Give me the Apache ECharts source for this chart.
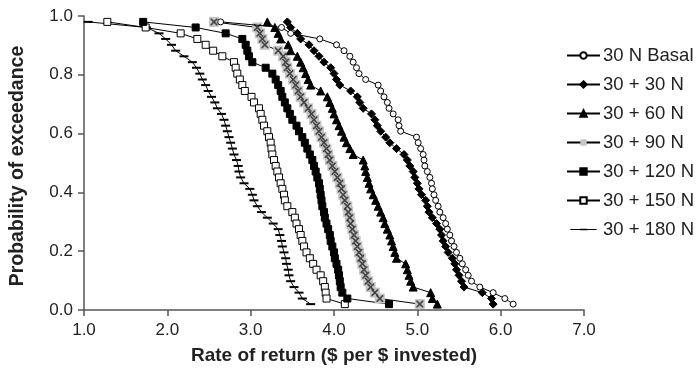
<!DOCTYPE html>
<html>
<head>
<meta charset="utf-8">
<script src="https://cdn.jsdelivr.net/npm/echarts@6/dist/echarts.min.js"></script>
<style>html,body{margin:0;padding:0;background:#fff}#c{width:700px;height:385px}</style>
</head>
<body>
<div id="c"></div>
<script>
// Probability of exceedance levels (shared by all series)
const prob = [0.980,0.961,0.941,0.922,0.902,0.882,0.863,0.843,0.824,0.804,0.784,0.765,0.745,0.725,0.706,0.686,0.667,0.647,0.627,0.608,0.588,0.569,0.549,0.529,0.510,0.490,0.471,0.451,0.431,0.412,0.392,0.373,0.353,0.333,0.314,0.294,0.275,0.255,0.235,0.216,0.196,0.176,0.157,0.137,0.118,0.098,0.078,0.059,0.039,0.020];

const seriesNames = ['30 N Basal','30 + 30 N','30 + 60 N','30 + 90 N','30 + 120 N','30 + 150 N','30 + 180 N'];

const rBasal = [2.64,3.37,3.48,3.83,4.03,4.12,4.19,4.23,4.27,4.30,4.38,4.53,4.56,4.60,4.64,4.66,4.71,4.77,4.78,4.80,4.99,5.01,5.04,5.07,5.08,5.09,5.12,5.15,5.17,5.18,5.20,5.22,5.25,5.27,5.31,5.34,5.36,5.39,5.41,5.44,5.47,5.51,5.54,5.58,5.61,5.65,5.75,5.91,6.05,6.15];
const r30 = [3.44,3.48,3.56,3.60,3.70,3.76,3.82,3.88,3.96,4.00,4.03,4.07,4.20,4.28,4.31,4.35,4.45,4.49,4.52,4.56,4.62,4.67,4.75,4.84,4.88,4.91,4.95,4.97,5.00,5.02,5.05,5.10,5.12,5.14,5.18,5.23,5.27,5.29,5.31,5.34,5.37,5.42,5.45,5.47,5.50,5.53,5.56,5.78,5.89,5.91];
const r60 = [3.20,3.29,3.33,3.36,3.45,3.48,3.56,3.60,3.63,3.66,3.69,3.72,3.84,3.92,3.95,3.98,4.00,4.03,4.06,4.09,4.12,4.15,4.19,4.23,4.35,4.37,4.38,4.40,4.42,4.44,4.47,4.50,4.53,4.56,4.59,4.61,4.64,4.67,4.69,4.71,4.73,4.75,4.86,4.88,4.90,4.92,4.95,5.16,5.18,5.24];
const r90 = [2.56,3.08,3.11,3.14,3.17,3.33,3.39,3.42,3.44,3.47,3.51,3.54,3.57,3.60,3.64,3.69,3.73,3.76,3.79,3.82,3.85,3.88,3.91,3.93,3.95,3.98,4.01,4.04,4.07,4.09,4.11,4.13,4.16,4.17,4.19,4.20,4.22,4.24,4.26,4.28,4.30,4.32,4.34,4.36,4.38,4.41,4.44,4.49,4.55,5.03];
const r120 = [1.71,2.34,2.70,2.90,2.94,2.96,2.98,3.02,3.18,3.26,3.30,3.33,3.36,3.38,3.41,3.44,3.47,3.50,3.55,3.58,3.62,3.65,3.68,3.71,3.74,3.76,3.78,3.80,3.82,3.83,3.84,3.85,3.86,3.88,3.89,3.91,3.93,3.95,3.96,3.98,4.00,4.01,4.03,4.05,4.06,4.07,4.08,4.10,4.16,4.66];
const r150 = [1.28,1.74,2.16,2.36,2.46,2.55,2.66,2.80,2.82,2.84,2.87,2.90,2.93,3.01,3.04,3.10,3.12,3.14,3.16,3.20,3.22,3.24,3.25,3.26,3.28,3.30,3.32,3.34,3.36,3.38,3.40,3.41,3.44,3.50,3.53,3.55,3.58,3.60,3.62,3.64,3.67,3.71,3.75,3.79,3.84,3.87,3.89,3.90,3.91,4.13];
const r180 = [1.05,1.75,1.90,1.98,2.05,2.10,2.20,2.30,2.35,2.39,2.42,2.46,2.49,2.53,2.57,2.60,2.65,2.68,2.70,2.72,2.74,2.76,2.78,2.80,2.83,2.85,2.86,2.88,2.92,2.99,3.02,3.04,3.08,3.13,3.20,3.27,3.33,3.35,3.37,3.38,3.40,3.42,3.43,3.45,3.46,3.48,3.52,3.58,3.62,3.72];

const xTicks = [1,2,3,4,5,6,7];
const yTicks = [0,0.2,0.4,0.6,0.8,1.0];

const pair = arr => arr.map((x, i) => [x, prob[i]]);
const FONT = '"Liberation Sans", Arial, sans-serif';
const xPath = 'path://M0,0L1.6,0L5,3.4L8.4,0L10,0L10,1.6L6.6,5L10,8.4L10,10L8.4,10L5,6.6L1.6,10L0,10L0,8.4L3.4,5L0,1.6Z';
// legend icon for the dash-marker series: thin line with a short thicker dash (corner specks fix the box)
const dashIcon = 'path://M0,0L0.05,0L0,0.05Z M33,10L32.95,10L33,9.95Z M0,4.5L33,4.5L33,5.5L0,5.5Z M12,4L21,4L21,6L12,6Z';

function lineSeries(name, arr, symbol, size, fill, extra) {
  return Object.assign({
    name: name, type: 'line', data: pair(arr),
    symbol: symbol, symbolSize: size, showAllSymbol: true,
    lineStyle: { color: '#000', width: 1 },
    itemStyle: { color: fill, borderColor: '#000', borderWidth: 1 },
    emphasis: { disabled: true }
  }, extra || {});
}

const legendData = seriesNames.map((n, i) => i === 6 ? { name: n, icon: dashIcon } : { name: n });

const chart = echarts.init(document.getElementById('c'), null, { renderer: 'canvas' });
chart.setOption({
  animation: false,
  backgroundColor: '#fff',
  textStyle: { fontFamily: FONT },
  grid: { left: 83, right: 116, top: 16, bottom: 75, containLabel: false },
  legend: {
    orient: 'vertical', left: 566, top: 46,
    itemWidth: 33, itemHeight: 8, itemGap: 10, padding: 0,
    data: legendData,
    textStyle: { fontFamily: FONT, fontSize: 18.5, color: '#222', padding: [0, 0, 0, -2] },
    selectedMode: false
  },
  xAxis: {
    type: 'value', min: xTicks[0], max: xTicks[xTicks.length - 1], interval: 1,
    name: 'Rate of return ($ per $ invested)', nameLocation: 'middle', nameGap: 36,
    nameTextStyle: { fontFamily: FONT, fontSize: 19, fontWeight: 'bold', color: '#222' },
    axisLine: { lineStyle: { color: '#555', width: 1.5 } },
    axisTick: { show: true, inside: false, length: 6, lineStyle: { color: '#555', width: 1.5 } },
    axisLabel: { formatter: v => v.toFixed(1), fontSize: 17, color: '#222', margin: 12, fontFamily: FONT },
    splitLine: { show: false }
  },
  yAxis: {
    type: 'value', min: yTicks[0], max: yTicks[yTicks.length - 1], interval: 0.2,
    name: 'Probability of exceedance', nameLocation: 'middle', nameGap: 56,
    nameTextStyle: { fontFamily: FONT, fontSize: 19.5, fontWeight: 'bold', color: '#222', padding: [0, 6, 0, 0] },
    axisLine: { show: true, lineStyle: { color: '#555', width: 1.5 } },
    axisTick: { show: true, inside: false, length: 6, lineStyle: { color: '#555', width: 1.5 } },
    axisLabel: { formatter: v => v.toFixed(1), fontSize: 17, color: '#222', margin: 11, fontFamily: FONT },
    splitLine: { show: false }
  },
  series: [
    lineSeries(seriesNames[6], r180, 'rect', [9, 2], '#000', { z: 2, itemStyle: { color: '#000', borderWidth: 0 } }),
    lineSeries(seriesNames[5], r150, 'rect', 7, '#fff', { z: 3 }),
    lineSeries(seriesNames[4], r120, 'rect', 7, '#000', { z: 4 }),
    lineSeries(seriesNames[3], r90, 'rect', 10, '#c4c4c4', { z: 5, itemStyle: { color: '#c4c4c4', borderWidth: 0 } }),
    {
      name: seriesNames[3] + ' ', type: 'scatter', data: pair(r90), symbol: xPath, symbolSize: 7,
      itemStyle: { color: '#222' }, z: 6, emphasis: { disabled: true }, silent: true
    },
    lineSeries(seriesNames[2], r60, 'triangle', 8, '#000', { z: 7 }),
    lineSeries(seriesNames[1], r30, 'diamond', 8, '#000', { z: 8 }),
    lineSeries(seriesNames[0], rBasal, 'circle', 6, '#fff', { z: 9 })
  ]
});
</script>
</body>
</html>
